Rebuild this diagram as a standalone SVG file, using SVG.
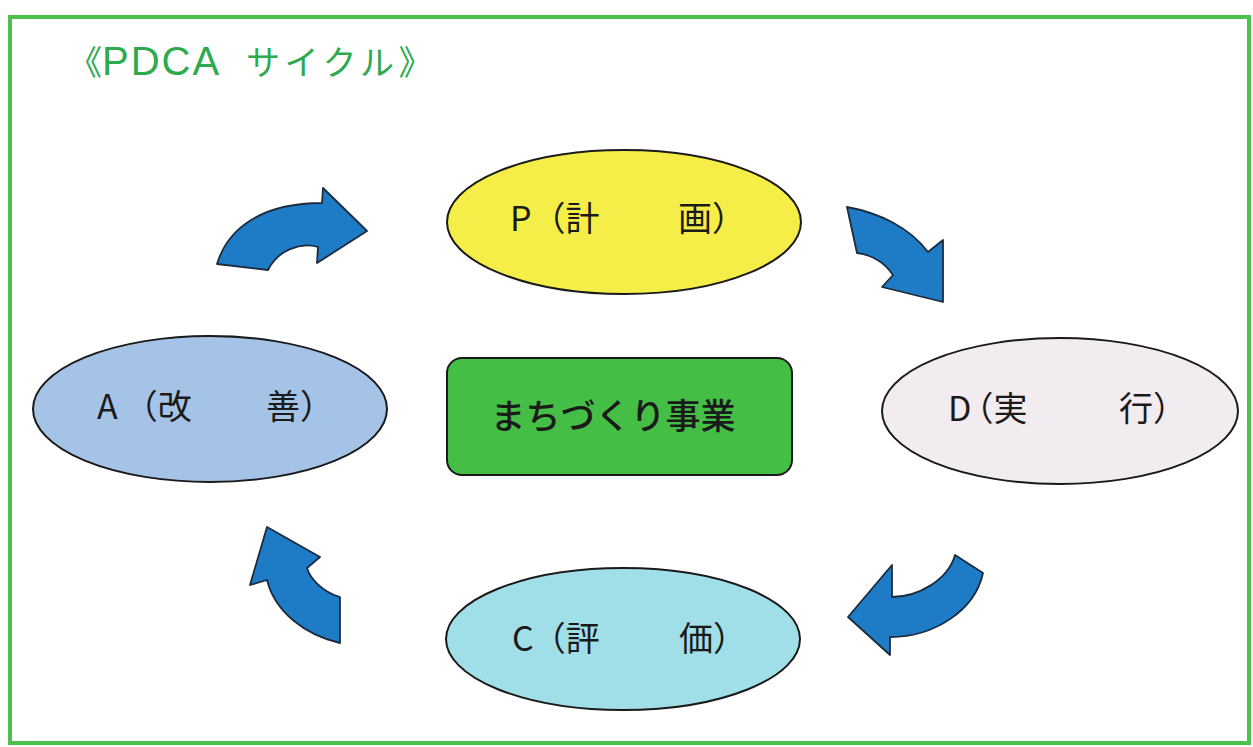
<svg xmlns="http://www.w3.org/2000/svg" width="1253" height="747" viewBox="0 0 1253 747">
<style>
text{font-family:"Noto Sans CJK JP","Noto Sans",sans-serif;fill:#1a1a1a}
.lbl{font-size:34px}
.node{stroke:#1a1a1a;stroke-width:2}
.arr{fill:#1e7cc6;stroke:#1b2b3d;stroke-width:1.8;stroke-linejoin:round}
.title{font-size:34px;fill:#2eaa4e}
.lat{font-family:"Liberation Sans","Noto Sans CJK JP",sans-serif}
</style>
<rect x="0" y="0" width="1253" height="747" fill="#ffffff"/>
<rect id="frame" x="10" y="17" width="1239" height="726" fill="#ffffff" stroke="#4cc04c" stroke-width="4"/>
<text class="title" x="68" y="75">《<tspan class="lat" font-size="40" dx="0 2 2 2">PDCA </tspan><tspan x="246" textLength="148" lengthAdjust="spacing">サイクル</tspan>》</text>
<g id="connectors">
<path class="arr" d="M217,264 C228,228 262,203 322,203 L323,188 L367,231 L317,263 L318,247 C300,242 278,250 268,270 Z"/>
<path class="arr" d="M847,207 C880,213 910,228 928,252 L943,240 L943,302 L882,287 L893,275 C885,263 872,255 857,253 Z"/>
<path class="arr" d="M955,555 C948,580 918,597 892,597 L892,565 L848,617 L890,655 L890,637 C935,637 975,610 983,573 Z"/>
<path class="arr" d="M340,643 C305,635 275,612 267,580 L250,585 L267,527 L320,557 L307,568 C310,578 322,592 340,597 Z"/>
</g>
<g id="node-P">
<ellipse class="node" cx="624" cy="222" rx="177" ry="72" fill="#f6ee48"/>
<text class="lbl" x="510" y="231">P（計<tspan x="678">画）</tspan></text>
</g>
<g id="node-D">
<ellipse class="node" cx="1060" cy="411" rx="178" ry="73" fill="#f2ebef"/>
<text class="lbl" x="948" y="421" dx="0 -12">D（実<tspan x="1119">行）</tspan></text>
</g>
<g id="node-C">
<ellipse class="node" cx="623" cy="639" rx="177" ry="71" fill="#a0dfe7"/>
<text class="lbl" x="512" y="651" dx="0 -2">C（評<tspan x="679">価）</tspan></text>
</g>
<g id="node-A">
<ellipse class="node" cx="210" cy="409" rx="177" ry="73" fill="#a5c3e6"/>
<text class="lbl" x="97" y="419" dx="0 6">A（改<tspan x="266">善）</tspan></text>
</g>
<g id="node-center">
<rect class="node" x="447" y="358" width="345" height="117" rx="15" fill="#44be44"/>
<text x="613" y="429" font-size="35" font-weight="500" text-anchor="middle">まちづくり事業</text>
</g>
</svg>
